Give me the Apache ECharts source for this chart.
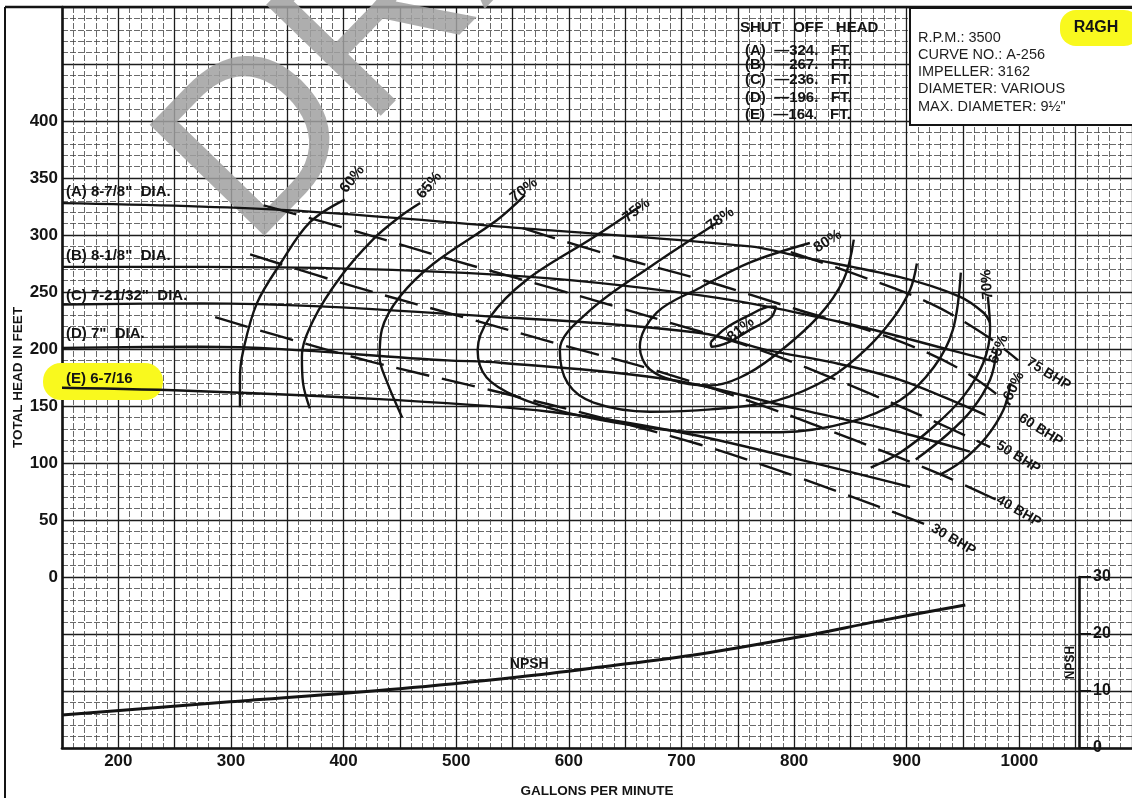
<!DOCTYPE html>
<html>
<head>
<meta charset="utf-8">
<title>R4GH pump performance curve</title>
<script src="https://cdn.jsdelivr.net/npm/echarts@6/dist/echarts.min.js"></script>
<style>
  html, body { margin: 0; padding: 0; background: #fff; }
  #chart { width: 1132px; height: 798px; }
</style>
</head>
<body>
<div id="chart"></div>
<script>
// Capacity in gallons per minute (x) against total head in feet (y).

// Head-capacity curves, one per impeller diameter
const headA = [[150,328],[345,322],[557,306],[761,290],[805,281],[894,263],[947,246],[968,232],[974,223]];
const headB = [[150,272],[273,272],[539,265],[717,247],[844,223],[939,199],[974,190]];
const headC = [[150,239],[273,240],[539,228],[717,214],[776,199],[835,188],[894,173],[954,149],[970,142]];
const headD = [[150,201],[273,202],[492,190],[539,188],[690,173],[805,147],[894,127],[956,110]];
const headE = [[150,166],[273,163],[432,156],[583,145],[699,127],[805,103],[903,79]];
const diameterNames = ['(A) 8-7/8"  DIA.', '(B) 8-1/8"  DIA.', '(C) 7-21/32"  DIA.', '(D) 7"  DIA.', '(E) 6-7/16'];

// Iso-efficiency curves
const eff60 = [[401,331],[370,311],[344,275],[323,240],[311,199],[308,175],[308,149]];
const eff65 = [[468,328],[450,316],[426,296],[397,263],[373,225],[363,193],[364,170],[370,148]];
const eff70 = [[561,335],[536,313],[480,275],[450,246],[434,217],[432,193],[439,170],[452,140]];
const eff75 = [[663,325],[622,298],[563,261],[530,228],[519,199],[527,175],[554,158],[599,144],[657,133],[717,127],[788,127],[850,136],[894,155],[924,184],[941,217],[948,267]];
const eff78 = [[732,311],[672,272],[619,234],[592,199],[599,170],[622,153],[672,145],[726,147],[785,155],[832,175],[863,199],[888,227],[903,252],[909,275]];
const eff80 = [[814,293],[761,276],[717,254],[678,232],[663,202],[672,182],[702,170],[726,168],[752,175],[781,193],[821,228],[844,261],[853,296]];
const eff81 = [[726,206],[739,218],[759,229],[779,237],[784,237],[779,227],[761,217],[742,206],[727,202],[726,206]];
const eff70R = [[972,246],[974,217],[968,188],[950,158],[924,132],[894,109],[868,96]];
const eff65R = [[980,199],[974,173],[958,147],[936,125],[908,103]];
const eff60R = [[992,170],[986,147],[970,122],[948,101],[930,90]];

// Constant brake-horsepower lines
const bhp75 = [[797,285],[859,264],[921,240],[970,212],[999,190]];
const bhp60 = [[559,306],[631,284],[717,261],[805,234],[885,210],[948,182],[992,151]];
const bhp50 = [[329,326],[412,303],[497,278],[590,252],[690,223],[770,199],[850,168],[921,138],[974,114]];
const bhp40 = [[317,283],[412,254],[506,228],[592,204],[681,180],[770,151],[859,118],[930,90],[979,68]];
const bhp30 = [[286,228],[344,211],[424,189],[530,164],[628,140],[717,116],[805,87],[877,61],[925,43]];

// Net positive suction head required (ft)
const npsh = [[150,5.8],[299,8.1],[450,10.4],[557,12.5],[628,14.2],[717,16.5],[805,19.5],[876,22.3],[952,25.1]];

// Axis tick labels
const gpmTicks = [200,300,400,500,600,700,800,900,1000];
const headTicks = [0,50,100,150,200,250,300,350,400];
const npshTicks = [0,10,20,30];

// Shut-off head per diameter (ft)
const shutOffLetters = ['A','B','C','D','E'];
const shutOffHeads = [324, 267, 236, 196, 164];

const infoLines = ['R.P.M.: 3500', 'CURVE NO.: A-256', 'IMPELLER: 3162', 'DIAMETER: VARIOUS', 'MAX. DIAMETER: 9\u00BD"'];

const FONT = '"Liberation Sans", Arial, sans-serif';
const INK = '#141414';

// Where the curve annotations sit (data coordinates) and how they are turned
const diameterLabelAt = [[154,337],[154,281],[154,246],[154,213],[154,173]];
const effLabelDefs = [
  { text: '60%', at: [400,338], rot: 52 },
  { text: '65%', at: [468,333], rot: 50 },
  { text: '70%', at: [550,331], rot: 38 },
  { text: '75%', at: [650,313], rot: 38 },
  { text: '78%', at: [724,306], rot: 35 },
  { text: '80%', at: [819,287], rot: 32 },
  { text: '81%', at: [743,208], rot: 40 },
  { text: '70%', at: [973,243], rot: 95 },
  { text: '65%', at: [977,187], rot: 68 },
  { text: '60%', at: [990,155], rot: 65 }
];
const bhpLabelDefs = [
  { text: '75 BHP', at: [1008,189], rot: -32 },
  { text: '60 BHP', at: [1001,140], rot: -32 },
  { text: '50 BHP', at: [981,116], rot: -32 },
  { text: '40 BHP', at: [981,68], rot: -30 },
  { text: '30 BHP', at: [923,43], rot: -30 }
];
const npshNameAt = [548, -77];

function solid(data, width) {
  return {
    type: 'line', data: data, smooth: 0.35, symbol: 'none', silent: true,
    lineStyle: { color: INK, width: width || 2.4 }, z: 3
  };
}
function dashed(data) {
  return {
    type: 'line', data: data, smooth: 0.35, symbol: 'none', silent: true,
    lineStyle: { color: INK, width: 2.4, type: [34, 13] }, z: 3
  };
}

const labelItems = [];
diameterNames.forEach((t, i) => labelItems.push({
  value: diameterLabelAt[i],
  label: { formatter: t, rotate: 0, fontSize: 15 }
}));
effLabelDefs.forEach(d => labelItems.push({
  value: d.at, label: { formatter: d.text, rotate: d.rot, fontSize: 15 }
}));
bhpLabelDefs.forEach(d => labelItems.push({
  value: d.at, label: { formatter: d.text, rotate: d.rot, fontSize: 14 }
}));
labelItems.push({ value: npshNameAt, label: { formatter: 'NPSH', rotate: 0, fontSize: 14 } });

const gridLineMajor = { color: '#1c1c1c', width: 1.3 };
const gridLineMinor = { color: '#444', width: 0.8, type: [6, 2] };

const chart = echarts.init(document.getElementById('chart'), null, { renderer: 'canvas' });

const option = {
  animation: false,
  backgroundColor: '#fff',
  grid: [
    { left: 62, right: 0, top: 7, bottom: 50, containLabel: false, outerBoundsMode: 'none' },
    { left: 1079, right: 52, top: 577, bottom: 50, containLabel: false, outerBoundsMode: 'none' }
  ],
  xAxis: [
    {
      type: 'value', gridIndex: 0, min: 150, max: 1100, interval: 50,
      axisLine: { show: true, onZero: false, lineStyle: { color: INK, width: 2.6 } },
      axisTick: { show: false },
      axisLabel: {
        customValues: gpmTicks, formatter: v => String(v), color: INK, fontSize: 17,
        fontWeight: 'bold', fontFamily: FONT, margin: 5
      },
      splitLine: { show: true, lineStyle: gridLineMajor },
      minorTick: { show: false, splitNumber: 5 },
      minorSplitLine: { show: true, lineStyle: gridLineMinor },
      name: 'GALLONS PER MINUTE', nameLocation: 'middle', nameGap: 36, nameMoveOverlap: false,
      nameTextStyle: { color: INK, fontSize: 13.5, fontWeight: 'bold', fontFamily: FONT }
    },
    { type: 'value', gridIndex: 1, min: 0, max: 1, show: false }
  ],
  yAxis: [
    {
      type: 'value', gridIndex: 0, min: -150, max: 500, interval: 50,
      axisLine: { show: true, onZero: false, lineStyle: { color: INK, width: 2.6 } },
      axisTick: { show: false },
      axisLabel: {
        customValues: headTicks, formatter: v => String(v), color: INK, fontSize: 17,
        fontWeight: 'bold', fontFamily: FONT, margin: 4
      },
      splitLine: { show: true, lineStyle: gridLineMajor },
      minorTick: { show: false, splitNumber: 5 },
      minorSplitLine: { show: true, lineStyle: gridLineMinor },
      name: 'TOTAL HEAD IN FEET', nameLocation: 'middle', nameRotate: 90, nameGap: 37,
      nameMoveOverlap: false,
      nameTextStyle: { color: INK, fontSize: 13.5, fontWeight: 'bold', fontFamily: FONT }
    },
    {
      type: 'value', gridIndex: 1, position: 'right', min: 0, max: 30, interval: 10,
      axisLine: { show: true, lineStyle: { color: INK, width: 2.6 } },
      axisTick: { show: true, length: 12, lineStyle: { color: INK, width: 2 } },
      axisLabel: { color: INK, fontSize: 16, fontWeight: 'bold', fontFamily: FONT, margin: 13 },
      splitLine: { show: false },
      name: 'NPSH', nameLocation: 'middle', nameRotate: 90, nameGap: -15, nameMoveOverlap: false,
      nameTextStyle: { color: INK, fontSize: 12, fontWeight: 'bold', fontFamily: FONT }
    },
    { type: 'value', gridIndex: 0, min: 0, max: 130, show: false }
  ],
  graphic: { elements: [
    // page frame
    { type: 'line', shape: { x1: 5, y1: 7, x2: 5, y2: 798 }, style: { stroke: INK, lineWidth: 2 }, z: 1 },
    { type: 'line', shape: { x1: 5, y1: 7, x2: 1132, y2: 7 }, style: { stroke: INK, lineWidth: 2.5 }, z: 1 },
    // watermark
    {
      type: 'text', x: 205, y: 205, rotation: 0.8, z: 1, silent: true,
      style: { text: 'DRAFT', font: '232px "Liberation Sans", Arial, sans-serif',
               fill: 'rgba(160,160,160,0.85)', textAlign: 'left', textVerticalAlign: 'middle' }
    },
    // highlight behind the smallest diameter
    { type: 'rect', shape: { x: 43, y: 363, width: 120, height: 37, r: 18 },
      style: { fill: '#f9f91e' }, z: 1 },
    // shut-off head table
    { type: 'text', x: 740, y: 28, z: 5,
      style: { text: 'SHUT   OFF   HEAD', font: 'bold 15px ' + FONT, fill: INK, textVerticalAlign: 'middle' } },
    ...shutOffLetters.map((l, i) => ({
      type: 'text', x: 745, y: [51, 65, 80, 98, 115][i], z: 5,
      style: { text: '(' + l + ')  \u2014' + shutOffHeads[i] + '.   FT.', font: 'bold 15px ' + FONT,
               fill: INK, textVerticalAlign: 'middle' }
    })),
    // information box
    { type: 'rect', shape: { x: 910, y: 8, width: 240, height: 117 },
      style: { fill: '#fff', stroke: INK, lineWidth: 2 }, z: 8 },
    ...infoLines.map((t, i) => ({
      type: 'text', x: 918, y: [38, 55, 72, 89, 107][i], z: 9,
      style: { text: t, font: '14.5px ' + FONT, fill: '#1e1e1e', textVerticalAlign: 'middle' }
    })),
    { type: 'rect', shape: { x: 1060, y: 10, width: 80, height: 36, r: 16 },
      style: { fill: '#f9f91e' }, z: 9 },
    { type: 'text', x: 1096, y: 28, z: 10,
      style: { text: 'R4GH', font: 'bold 16px ' + FONT, fill: INK,
               textAlign: 'center', textVerticalAlign: 'middle' } }
  ] },
  series: [
    solid(headA), solid(headB), solid(headC), solid(headD), solid(headE),
    solid(eff60), solid(eff65), solid(eff70), solid(eff75), solid(eff78),
    solid(eff80), solid(eff81), solid(eff70R), solid(eff65R), solid(eff60R),
    dashed(bhp75), dashed(bhp60), dashed(bhp50), dashed(bhp40), dashed(bhp30),
    {
      type: 'line', data: npsh, xAxisIndex: 0, yAxisIndex: 2, smooth: 0.35,
      symbol: 'none', silent: true, lineStyle: { color: INK, width: 3 }, z: 3
    },
    {
      type: 'scatter', data: labelItems, symbol: 'circle', symbolSize: 1, silent: true, z: 4,
      itemStyle: { color: INK, opacity: 0 },
      label: {
        show: true, position: [0, 0], align: 'left', verticalAlign: 'middle',
        color: INK, opacity: 1, fontWeight: 'bold', fontFamily: FONT,
        textBorderWidth: 0
      }
    }
  ]
};

chart.setOption(option);
</script>
</body>
</html>
